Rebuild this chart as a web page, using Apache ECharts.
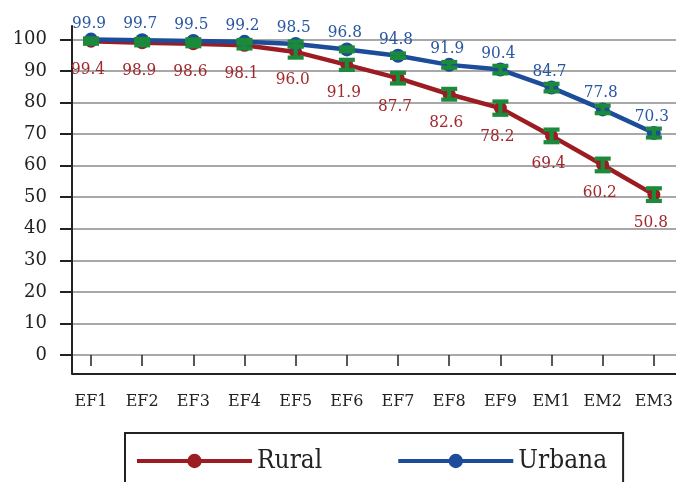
<!DOCTYPE html>
<html>
<head>
<meta charset="utf-8">
<script src="https://cdn.jsdelivr.net/npm/echarts@6/dist/echarts.min.js"></script>
<style>
  html, body { margin: 0; padding: 0; background: #fff; }
  #chart { width: 676px; height: 482px; }
</style>
</head>
<body>
<div id="chart"></div>
<script>
const categories = ["EF1", "EF2", "EF3", "EF4", "EF5", "EF6", "EF7", "EF8", "EF9", "EM1", "EM2", "EM3"];
const ruralValues = [99.4, 98.9, 98.6, 98.1, 96.0, 91.9, 87.7, 82.6, 78.2, 69.4, 60.2, 50.8];
const urbanValues = [99.9, 99.7, 99.5, 99.2, 98.5, 96.8, 94.8, 91.9, 90.4, 84.7, 77.8, 70.3];
// half-width of the error bars
const ruralErrors = [0.8, 0.8, 0.8, 1.0, 1.8, 1.6, 1.7, 1.7, 2.1, 2.0, 2.0, 2.0];
const urbanErrors = [0.3, 0.4, 0.5, 0.6, 0.8, 0.6, 0.7, 0.9, 1.2, 1.2, 1.2, 1.4];
const yMin = 0;
const yMax = 100;
const yStep = 10;

const RED = "#9c1c22";
const BLUE = "#1c4c9a";
const GREEN = "#1b8a3a";
const SERIF = "'DejaVu Serif', serif";
const SERIF_NARROW = "'DejaVu Serif Condensed', 'DejaVu Serif', serif";

const buildErrorData = (values, errors) =>
  values.map((v, i) => [i, v - errors[i], v + errors[i]]);

const renderErrorBar = (params, api) => {
  const x = api.coord([api.value(0), 0])[0];
  const lo = api.coord([api.value(0), api.value(1)])[1];
  const hi = api.coord([api.value(0), api.value(2)])[1];
  const half = 8;
  const style = { stroke: GREEN, lineWidth: 4.2, fill: null };
  return {
    type: "group",
    children: [
      { type: "line", shape: { x1: x, y1: hi, x2: x, y2: lo }, style },
      { type: "line", shape: { x1: x - half, y1: hi, x2: x + half, y2: hi }, style },
      { type: "line", shape: { x1: x - half, y1: lo, x2: x + half, y2: lo }, style },
    ],
  };
};

const chart = echarts.init(document.getElementById("chart"), undefined, { renderer: "canvas" });

chart.setOption({
  animation: false,
  backgroundColor: "#fff",
  grid: [
    // gridlines + y ticks
    { left: 72, right: 0, top: 39.3, height: 315.7 },
    // frame (axis lines)
    { left: 72, right: 0, top: 26, height: 347.3 },
    // data
    { left: 91, right: 20, top: 39.3, height: 315.7 },
  ],
  legend: {
    data: ["Rural", "Urbana"],
    left: 125,
    top: 433,
    itemWidth: 115,
    itemHeight: 18,
    itemGap: 74,
    padding: [15, 16, 40, 10],
    borderColor: "#222",
    borderWidth: 2,
    lineStyle: { width: 4 },
    textStyle: { fontFamily: SERIF_NARROW, fontSize: 26, color: "#222" },
  },
  xAxis: [
    { gridIndex: 0, type: "value", show: false },
    {
      gridIndex: 1, type: "value", min: 0, max: 1,
      axisLine: { show: true, lineStyle: { color: "#222", width: 2 } },
      axisTick: { show: false }, axisLabel: { show: false }, splitLine: { show: false },
    },
    {
      gridIndex: 2, type: "category", data: categories, boundaryGap: false,
      offset: 21,
      axisLine: { show: false },
      axisTick: { show: true, length: 11, lineStyle: { color: "#222", width: 1.5 } },
      axisLabel: { margin: 18, fontFamily: SERIF, fontSize: 16, color: "#222" },
      splitLine: { show: false },
    },
  ],
  yAxis: [
    {
      gridIndex: 0, type: "value", min: yMin, max: yMax, interval: yStep,
      axisLine: { show: false },
      axisTick: { show: true, length: 12, lineStyle: { color: "#222", width: 2 } },
      axisLabel: { margin: 25, fontFamily: SERIF, fontSize: 18, color: "#222" },
      splitLine: { show: true, lineStyle: { color: "#a8a8a8", width: 2 } },
    },
    {
      gridIndex: 1, type: "value", min: 0, max: 1,
      axisLine: { show: true, lineStyle: { color: "#222", width: 2 } },
      axisTick: { show: false }, axisLabel: { show: false }, splitLine: { show: false },
    },
    { gridIndex: 2, type: "value", min: yMin, max: yMax, show: false },
  ],
  series: [
    {
      name: "Rural", type: "line", xAxisIndex: 2, yAxisIndex: 2,
      data: ruralValues, color: RED, z: 3,
      symbol: "circle", symbolSize: 13,
      lineStyle: { width: 4.5, color: RED },
      itemStyle: { color: RED },
      label: {
        show: true, position: "bottom", distance: 13, offset: [-3, 0],
        fontFamily: SERIF_NARROW, fontSize: 17, color: "#a3282d",
        formatter: (p) => p.value.toFixed(1),
      },
    },
    {
      name: "Urbana", type: "line", xAxisIndex: 2, yAxisIndex: 2,
      data: urbanValues, color: BLUE, z: 4,
      symbol: "circle", symbolSize: 14,
      lineStyle: { width: 4.5, color: BLUE },
      itemStyle: { color: BLUE },
      label: {
        show: true, position: "top", distance: 1, offset: [-2, 0],
        fontFamily: SERIF_NARROW, fontSize: 17, color: "#2a57a3",
        formatter: (p) => p.value.toFixed(1),
      },
    },
    {
      name: "Rural error", type: "custom", xAxisIndex: 2, yAxisIndex: 2, z: 5,
      data: buildErrorData(ruralValues, ruralErrors), renderItem: renderErrorBar,
    },
    {
      name: "Urbana error", type: "custom", xAxisIndex: 2, yAxisIndex: 2, z: 5,
      data: buildErrorData(urbanValues, urbanErrors), renderItem: renderErrorBar,
    },
  ],
});
</script>
</body>
</html>
